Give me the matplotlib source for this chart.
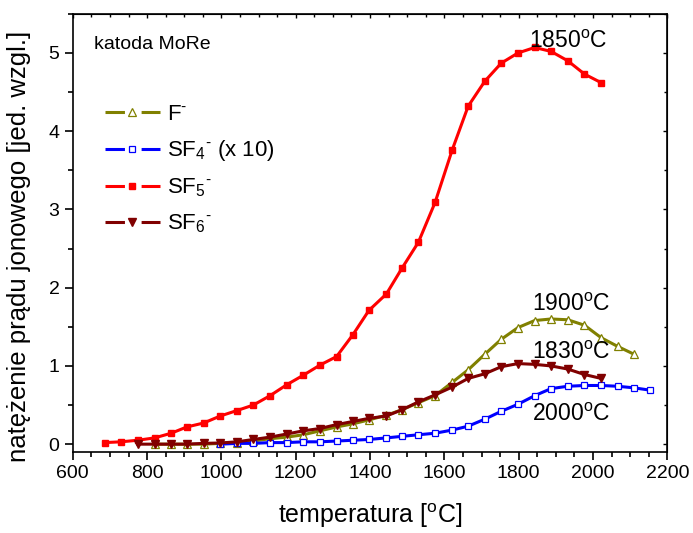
import matplotlib
matplotlib.use('Agg')
import matplotlib.pyplot as plt
from matplotlib.lines import Line2D
from matplotlib.ticker import MultipleLocator

plt.rcParams['font.family'] = ['Liberation Sans', 'DejaVu Sans']
plt.rcParams['mathtext.fontset'] = 'custom'
plt.rcParams['mathtext.rm'] = 'Liberation Sans'
plt.rcParams['mathtext.it'] = 'Liberation Sans:italic'
plt.rcParams['lines.scale_dashes'] = False

# temperatures [C]
t_sf5 = [686, 730, 775, 820, 865, 907, 952, 997, 1042, 1086, 1131, 1176, 1220, 1265,
         1310, 1354, 1397, 1444, 1486, 1530, 1575, 1621, 1664, 1709, 1753, 1798, 1843,
         1887, 1932, 1977, 2022]
sf5 = [0.02, 0.03, 0.05, 0.08, 0.14, 0.22, 0.27, 0.36, 0.43, 0.50, 0.62, 0.76, 0.88, 1.01,
       1.12, 1.40, 1.71, 1.92, 2.25, 2.58, 3.09, 3.76, 4.32, 4.64, 4.87, 5.00, 5.07,
       5.02, 4.90, 4.73, 4.62]

t_sf6 = t_sf5[2:]
sf6 = [0.0, 0.0, 0.0, 0.0, 0.01, 0.015, 0.03, 0.06, 0.09, 0.13, 0.17, 0.20, 0.25, 0.29,
       0.33, 0.36, 0.44, 0.54, 0.63, 0.73, 0.84, 0.90, 0.99, 1.03, 1.02, 1.00, 0.96,
       0.89, 0.84]

t_f = t_sf5[3:] + [2066, 2110]
f_ion = [0.0, 0.0, 0.0, 0.0, 0.01, 0.02, 0.04, 0.07, 0.09, 0.12, 0.17, 0.22, 0.26,
         0.31, 0.37, 0.44, 0.53, 0.62, 0.79, 0.95, 1.15, 1.34, 1.49, 1.58, 1.60, 1.59,
         1.52, 1.36, 1.25, 1.15]

t_sf4 = t_sf5[7:] + [2066, 2110, 2154]
sf4 = [0.0, 0.01, 0.01, 0.02, 0.02, 0.03, 0.03, 0.04, 0.05, 0.06, 0.08, 0.10, 0.12,
       0.14, 0.18, 0.23, 0.32, 0.42, 0.51, 0.62, 0.71, 0.74, 0.75, 0.75, 0.74, 0.72, 0.69]

olive = '#808000'
blue = '#0000ff'
red = '#ff0000'
dred = '#800000'

fig = plt.figure(figsize=(6.93, 5.33), dpi=100)
ax = fig.add_axes([0.105, 0.152, 0.858, 0.822])

ax.plot(t_f, f_ion, color=olive, lw=2.2, marker='^', ms=5.5, mfc='white', mec=olive, mew=0.9)
ax.plot(t_sf4, sf4, color=blue, lw=2.2, marker='s', ms=4.5, mfc='white', mec=blue, mew=0.9)
ax.plot(t_sf5, sf5, color=red, lw=2.2, marker='s', ms=4.5, mfc=red, mec=red)
ax.plot(t_sf6, sf6, color=dred, lw=2.2, marker='v', ms=5.5, mfc=dred, mec=dred)

ax.set_xlim(600, 2200)
ax.set_ylim(-0.1, 5.5)
ax.xaxis.set_major_locator(MultipleLocator(200))
ax.xaxis.set_minor_locator(MultipleLocator(50))
ax.yaxis.set_major_locator(MultipleLocator(1))
ax.yaxis.set_minor_locator(MultipleLocator(0.5))
ax.tick_params(which='both', direction='out', labelsize=14, width=1.2)
ax.tick_params(which='major', length=6)
ax.tick_params(which='minor', length=3.5)
for s in ax.spines.values():
    s.set_linewidth(1.2)

top = ax.secondary_xaxis('top')
top.xaxis.set_major_locator(MultipleLocator(200))
top.xaxis.set_minor_locator(MultipleLocator(50))
top.tick_params(which='both', direction='in', labeltop=False, width=1.0)
top.tick_params(which='major', length=3)
top.tick_params(which='minor', length=2)
right = ax.secondary_yaxis('right')
right.yaxis.set_major_locator(MultipleLocator(1))
right.yaxis.set_minor_locator(MultipleLocator(0.5))
right.tick_params(which='both', direction='in', labelright=False, width=1.0)
right.tick_params(which='major', length=3)
right.tick_params(which='minor', length=2)

ax.set_xlabel('temperatura [$^\\mathregular{o}$C]', fontsize=18, labelpad=14)
ax.set_ylabel('natężenie prądu jonowego [jed. wzgl.]', fontsize=18.5)
ax.yaxis.set_label_coords(-0.07, 0.47)

ax.text(0.035, 0.93, 'katoda MoRe', transform=ax.transAxes, fontsize=14, va='center')
ax.text(1932, 5.15, '1850$^\\mathregular{o}$C', fontsize=16.5, ha='center', va='center')
ax.text(1940, 1.78, '1900$^\\mathregular{o}$C', fontsize=16.5, ha='center', va='center')
ax.text(1940, 1.17, '1830$^\\mathregular{o}$C', fontsize=16.5, ha='center', va='center')
ax.text(1940, 0.38, '2000$^\\mathregular{o}$C', fontsize=16.5, ha='center', va='center')

dash = (0, (14, 12))
handles = [
    Line2D([], [], color=olive, lw=2.2, ls=dash, marker='^', ms=5.5, mfc='white', mec=olive, mew=0.9),
    Line2D([], [], color=blue, lw=2.2, ls=dash, marker='s', ms=4.5, mfc='white', mec=blue, mew=0.9),
    Line2D([], [], color=red, lw=2.2, ls=dash, marker='s', ms=4.5, mfc=red, mec=red),
    Line2D([], [], color=dred, lw=2.2, ls=dash, marker='v', ms=5.5, mfc=dred, mec=dred),
]
labels = ['$\\mathregular{F^{\u2010}}$', '$\\mathregular{SF_4{}^{\u2010}}$ (x 10)',
          '$\\mathregular{SF_5{}^{\u2010}}$', '$\\mathregular{SF_6{}^{\u2010}}$']
ax.legend(handles, labels, loc='upper left', bbox_to_anchor=(0.02, 0.84), frameon=False,
          fontsize=16, handlelength=2.5, handletextpad=0.3, labelspacing=0.6,
          numpoints=1)

fig.savefig('out.png', dpi=100)
